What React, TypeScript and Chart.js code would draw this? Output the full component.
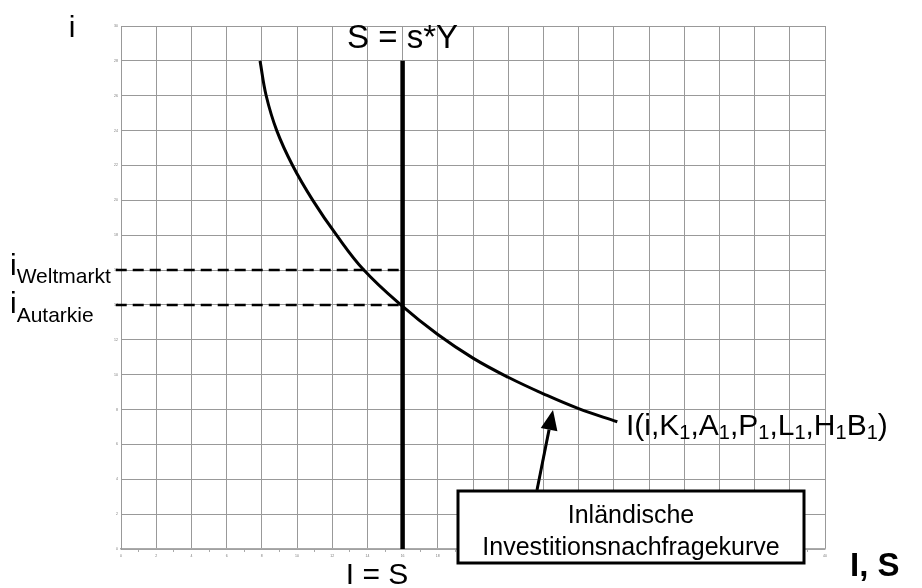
import React, { useEffect, useRef } from 'react';
import { Chart, registerables } from 'chart.js';

Chart.register(...registerables);

// Investment demand curve I(i, ...)
const curveX = [7.9, 8.25, 8.85, 9.75, 10.9, 12.25, 13.8, 15.9, 18, 20, 22, 24, 26, 28.2];
const curveY = [28, 26, 24, 22, 20, 18, 16, 14, 12.3, 10.95, 9.85, 8.9, 8.05, 7.3];

// Savings line S = s*Y (vertical)
const savingsX = [16, 16];
const savingsY = [0, 28];

// Interest rate levels
const worldRate = 16;
const autarkyRate = 14;
const rateLineX = [-0.3, 16];

// Axis ranges / ticks
const xMin = 0;
const xMax = 40;
const yMin = 0;
const yMax = 30;
const yStep = 2;

const curveLabelParts = ['I(i,K', '1', ',A', '1', ',P', '1', ',L', '1', ',H', '1', 'B', '1', ')'];
const boxLines = ['Inländische', 'Investitionsnachfragekurve'];

const FONT = '"Liberation Sans", Arial, Helvetica, sans-serif';

function toPts(xs: number[], ys: number[]) {
  return xs.map((x, i) => ({ x, y: ys[i] }));
}

const annotationPlugin = {
  id: 'annotations',
  afterDraw(chart: any) {
    const ctx: CanvasRenderingContext2D = chart.ctx;
    const xs = chart.scales.x;
    ctx.save();
    ctx.fillStyle = '#000';
    ctx.textBaseline = 'alphabetic';

    // y-axis name
    ctx.font = `30px ${FONT}`;
    ctx.textAlign = 'center';
    ctx.fillText('i', 72, 37);

    // S = s*Y
    ctx.font = `33px ${FONT}`;
    ctx.textAlign = 'center';
    ctx.fillText('S = s*Y', xs.getPixelForValue(savingsX[0]), 48);

    // I = S
    ctx.font = `30px ${FONT}`;
    ctx.fillText('I = S', 377, 584);

    // I, S (x axis name)
    ctx.font = `bold 33px ${FONT}`;
    ctx.textAlign = 'left';
    ctx.fillText('I, S', 850, 576);

    // i_Weltmarkt, i_Autarkie
    const drawSub = (x: number, y: number, main: string, sub: string, subY: number) => {
      ctx.textAlign = 'left';
      ctx.font = `30px ${FONT}`;
      ctx.fillText(main, x, y);
      const w = ctx.measureText(main).width;
      ctx.font = `21px ${FONT}`;
      ctx.fillText(sub, x + w, subY);
    };
    drawSub(10, 275, 'i', 'Weltmarkt', 283);
    drawSub(10, 313, 'i', 'Autarkie', 321.5);

    // Curve label with subscripts
    let cx = 626;
    curveLabelParts.forEach((p, i) => {
      const isSub = i % 2 === 1;
      ctx.font = isSub ? `20px ${FONT}` : `30px ${FONT}`;
      ctx.textAlign = 'left';
      ctx.fillText(p, cx, isSub ? 439 : 435);
      cx += ctx.measureText(p).width;
    });

    // Arrow from box to curve
    const tx = 553, ty = 410, fx = 537, fy = 490;
    const ang = Math.atan2(ty - fy, tx - fx);
    const headLen = 20, headW = 8.5;
    const bx = tx - headLen * Math.cos(ang);
    const by = ty - headLen * Math.sin(ang);
    ctx.strokeStyle = '#000';
    ctx.lineWidth = 3;
    ctx.beginPath();
    ctx.moveTo(fx, fy);
    ctx.lineTo(bx, by);
    ctx.stroke();
    ctx.beginPath();
    ctx.moveTo(tx, ty);
    ctx.lineTo(bx + headW * Math.sin(ang), by - headW * Math.cos(ang));
    ctx.lineTo(bx - headW * Math.sin(ang), by + headW * Math.cos(ang));
    ctx.closePath();
    ctx.fill();

    // Box
    ctx.fillStyle = '#fff';
    ctx.fillRect(458, 491, 346, 72);
    ctx.lineWidth = 3;
    ctx.strokeStyle = '#000';
    ctx.strokeRect(458, 491, 346, 72);
    ctx.fillStyle = '#000';
    ctx.font = `25px ${FONT}`;
    ctx.textAlign = 'center';
    ctx.fillText(boxLines[0], 631, 523);
    ctx.fillText(boxLines[1], 631, 555);

    ctx.restore();
  },
};

export default function App() {
  const ref = useRef<HTMLCanvasElement | null>(null);

  useEffect(() => {
    document.body.style.margin = '0';
    if (!ref.current) return;
    const isEven = (v: number) => Math.abs(v % 2) < 1e-9;
    const chart = new Chart(ref.current, {
      type: 'scatter',
      data: {
        datasets: [
          {
            data: toPts(curveX, curveY),
            showLine: true,
            borderColor: '#000',
            borderWidth: 3,
            pointRadius: 0,
            tension: 0.4,
          },
          {
            data: toPts(savingsX, savingsY),
            showLine: true,
            borderColor: '#000',
            borderWidth: 4.5,
            pointRadius: 0,
          },
          {
            data: toPts(rateLineX, [worldRate, worldRate]),
            showLine: true,
            borderColor: '#000',
            borderWidth: 2.5,
            borderDash: [11, 6],
            pointRadius: 0,
            clip: false,
          },
          {
            data: toPts(rateLineX, [autarkyRate, autarkyRate]),
            showLine: true,
            borderColor: '#000',
            borderWidth: 2.5,
            borderDash: [11, 6],
            pointRadius: 0,
            clip: false,
          },
        ] as any,
      },
      options: {
        responsive: false,
        animation: false,
        devicePixelRatio: 1,
        layout: { padding: { left: 0, right: 97, top: 26, bottom: 0 } },
        plugins: { legend: { display: false }, tooltip: { enabled: false } },
        scales: {
          x: {
            type: 'linear',
            min: xMin,
            max: xMax,
            afterFit: (s: any) => {
              s.height = 39;
            },
            ticks: {
              stepSize: 1,
              autoSkip: false,
              maxRotation: 0,
              font: { size: 3.5, family: FONT },
              color: '#777',
              padding: 2,
              callback: (v: any) => (isEven(Number(v)) ? String(v) : ''),
            },
            grid: {
              color: (c: any) => (c.tick && isEven(c.tick.value) ? '#999' : 'rgba(0,0,0,0)'),
              tickColor: (c: any) => (c.tick && !isEven(c.tick.value) ? '#aaa' : 'rgba(0,0,0,0)'),
              tickLength: 3,
              drawTicks: true,
            },
            border: { color: '#aaa', width: 1.5 },
          },
          y: {
            type: 'linear',
            min: yMin,
            max: yMax,
            afterFit: (s: any) => {
              s.width = 121;
            },
            ticks: {
              stepSize: yStep,
              font: { size: 3.5, family: FONT },
              color: '#777',
              padding: 3,
            },
            grid: { color: '#999', drawTicks: false },
            border: { color: '#999' },
          },
        },
      } as any,
      plugins: [annotationPlugin],
    });
    return () => chart.destroy();
  }, []);

  return <canvas ref={ref} width={922} height={588} style={{ display: 'block' }} />;
}
